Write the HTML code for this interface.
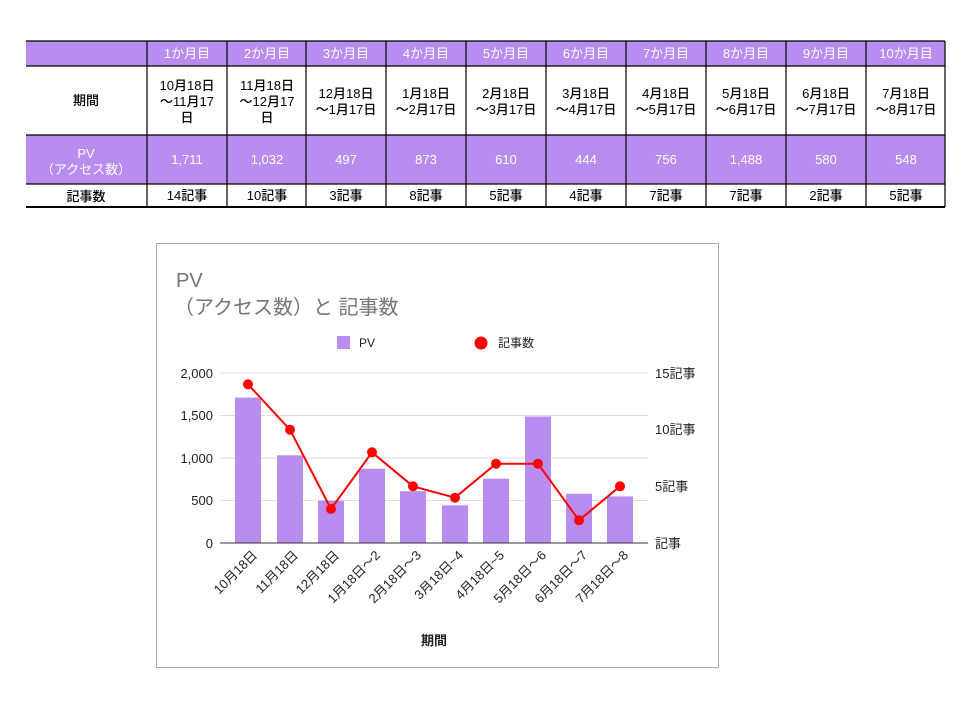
<!DOCTYPE html><html><head><meta charset="utf-8"><style>body{margin:0;background:#fff}svg text{font-family:"Liberation Sans","Noto Sans CJK JP",sans-serif}</style></head><body>
<svg width="967" height="698" xmlns="http://www.w3.org/2000/svg">
<rect x="26" y="41" width="919" height="25" fill="#b98cf0"/>
<rect x="26" y="135" width="919" height="49" fill="#b98cf0"/>
<g stroke="#000" stroke-width="1.2" fill="none">
<line x1="26" y1="41" x2="945" y2="41"/><line x1="26" y1="66" x2="945" y2="66"/><line x1="26" y1="135" x2="945" y2="135"/><line x1="26" y1="184" x2="945" y2="184"/><line x1="26" y1="207" x2="945" y2="207" stroke-width="2"/>
<line x1="147" y1="41" x2="147" y2="207"/><line x1="227" y1="41" x2="227" y2="207"/><line x1="306" y1="41" x2="306" y2="207"/><line x1="386" y1="41" x2="386" y2="207"/><line x1="466" y1="41" x2="466" y2="207"/><line x1="546" y1="41" x2="546" y2="207"/><line x1="626" y1="41" x2="626" y2="207"/><line x1="706" y1="41" x2="706" y2="207"/><line x1="786" y1="41" x2="786" y2="207"/><line x1="866" y1="41" x2="866" y2="207"/><line x1="945" y1="41" x2="945" y2="207"/>
</g>
<g font-size="13" text-anchor="middle">
<g fill="#fff"><text x="187" y="58">1か月目</text><text x="267" y="58">2か月目</text><text x="346" y="58">3か月目</text><text x="426" y="58">4か月目</text><text x="506" y="58">5か月目</text><text x="586" y="58">6か月目</text><text x="666" y="58">7か月目</text><text x="746" y="58">8か月目</text><text x="826" y="58">9か月目</text><text x="906" y="58">10か月目</text>
<text x="86" y="158">PV</text><text x="86" y="174">（アクセス数）</text>
<text x="187" y="164">1,711</text><text x="267" y="164">1,032</text><text x="346" y="164">497</text><text x="426" y="164">873</text><text x="506" y="164">610</text><text x="586" y="164">444</text><text x="666" y="164">756</text><text x="746" y="164">1,488</text><text x="826" y="164">580</text><text x="906" y="164">548</text></g>
<g fill="#000" font-weight="500">
<text x="86" y="105">期間</text>
<text x="187" y="90">10月18日</text><text x="187" y="106">～11月17</text><text x="187" y="122">日</text>
<text x="267" y="90">11月18日</text><text x="267" y="106">～12月17</text><text x="267" y="122">日</text>
<text x="346" y="98">12月18日</text><text x="346" y="114">～1月17日</text>
<text x="426" y="98">1月18日</text><text x="426" y="114">～2月17日</text>
<text x="506" y="98">2月18日</text><text x="506" y="114">～3月17日</text>
<text x="586" y="98">3月18日</text><text x="586" y="114">～4月17日</text>
<text x="666" y="98">4月18日</text><text x="666" y="114">～5月17日</text>
<text x="746" y="98">5月18日</text><text x="746" y="114">～6月17日</text>
<text x="826" y="98">6月18日</text><text x="826" y="114">～7月17日</text>
<text x="906" y="98">7月18日</text><text x="906" y="114">～8月17日</text>
<text x="86" y="201">記事数</text><text x="187" y="200">14記事</text><text x="267" y="200">10記事</text><text x="346" y="200">3記事</text><text x="426" y="200">8記事</text><text x="506" y="200">5記事</text><text x="586" y="200">4記事</text><text x="666" y="200">7記事</text><text x="746" y="200">7記事</text><text x="826" y="200">2記事</text><text x="906" y="200">5記事</text>
</g></g>
<rect x="156.5" y="243.5" width="562" height="424" fill="#fff" stroke="#aaa"/>
<text x="176" y="287" font-size="20" fill="#757575">PV</text>
<text x="174" y="314" font-size="20" fill="#757575">（アクセス数）と 記事数</text>
<rect x="337" y="336" width="13" height="13" fill="#b98cf0"/><text x="359" y="347" font-size="12" fill="#222">PV</text>
<circle cx="481" cy="343" r="6.5" fill="#f00"/><text x="498" y="347" font-size="12" fill="#222">記事数</text>
<g stroke="#ddd"><line x1="220" y1="373" x2="648" y2="373"/><line x1="220" y1="415.5" x2="648" y2="415.5"/><line x1="220" y1="458" x2="648" y2="458"/><line x1="220" y1="500.5" x2="648" y2="500.5"/></g>
<g font-size="13" fill="#222" text-anchor="end"><text x="213" y="378">2,000</text><text x="213" y="420">1,500</text><text x="213" y="463">1,000</text><text x="213" y="505">500</text><text x="213" y="548">0</text></g>
<g font-size="13" fill="#222"><text x="655" y="378">15記事</text><text x="655" y="434">10記事</text><text x="655" y="491">5記事</text><text x="655" y="548">記事</text></g>
<g fill="#b98cf0">
<rect x="235" y="397.6" width="26" height="145.4"/><rect x="277" y="455.3" width="26" height="87.7"/><rect x="318" y="500.8" width="26" height="42.2"/><rect x="359" y="468.8" width="26" height="74.2"/><rect x="400" y="491.2" width="26" height="51.8"/><rect x="442" y="505.3" width="26" height="37.7"/><rect x="483" y="478.7" width="26" height="64.3"/><rect x="525" y="416.5" width="26" height="126.5"/><rect x="566" y="493.7" width="26" height="49.3"/><rect x="607" y="496.4" width="26" height="46.6"/></g>
<line x1="220" y1="543" x2="648" y2="543" stroke="#333"/>
<polyline fill="none" stroke="#f00" stroke-width="2" points="248,384.3 290,429.7 331,509 372,452.3 413,486.3 455,497.7 496,463.7 538,463.7 579,520.3 620,486.3"/>
<g fill="#f00"><circle cx="248" cy="384.3" r="5"/><circle cx="290" cy="429.7" r="5"/><circle cx="331" cy="509" r="5"/><circle cx="372" cy="452.3" r="5"/><circle cx="413" cy="486.3" r="5"/><circle cx="455" cy="497.7" r="5"/><circle cx="496" cy="463.7" r="5"/><circle cx="538" cy="463.7" r="5"/><circle cx="579" cy="520.3" r="5"/><circle cx="620" cy="486.3" r="5"/></g>
<g font-size="13" fill="#222" text-anchor="end">
<text transform="translate(258,556) rotate(-45)">10月18日</text><text transform="translate(299,556) rotate(-45)">11月18日</text><text transform="translate(340,556) rotate(-45)">12月18日</text><text transform="translate(381,556) rotate(-45)">1月18日～2</text><text transform="translate(422,556) rotate(-45)">2月18日～3</text><text transform="translate(464,556) rotate(-45)">3月18日~4</text><text transform="translate(505,556) rotate(-45)">4月18日~5</text><text transform="translate(547,556) rotate(-45)">5月18日～6</text><text transform="translate(588,556) rotate(-45)">6月18日～7</text><text transform="translate(629,556) rotate(-45)">7月18日～8</text></g>
<text x="434" y="645" font-size="13" fill="#222" text-anchor="middle" font-weight="bold">期間</text>
</svg></body></html>
